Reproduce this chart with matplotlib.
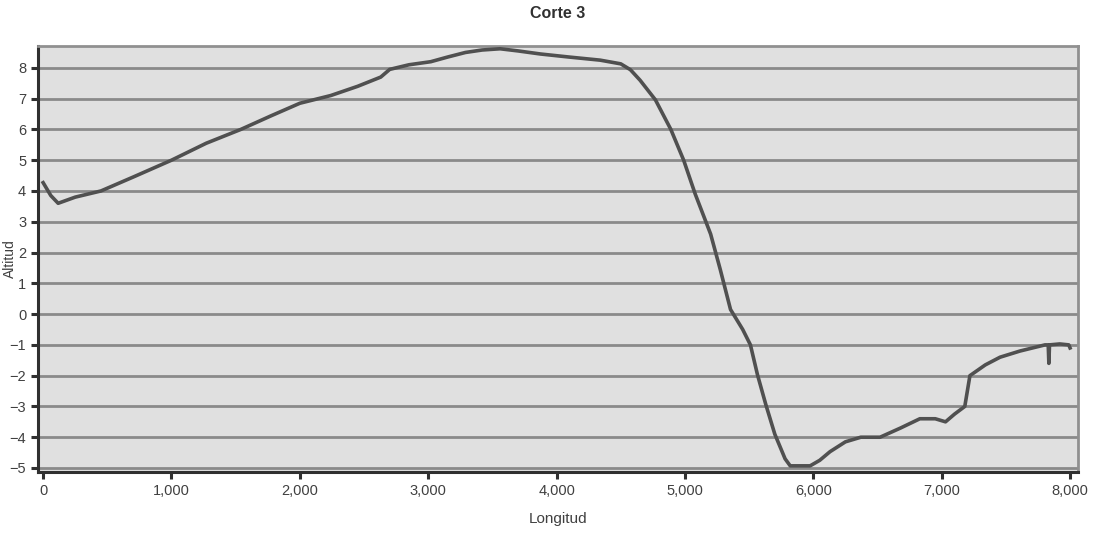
import matplotlib.pyplot as plt
from matplotlib.ticker import FuncFormatter

plt.rcParams['font.family'] = ['Liberation Sans', 'DejaVu Sans']

# profile: distance along section (m) and altitude
longitud = [0, 60, 117, 250, 450, 700, 1000, 1270, 1540, 1780, 2000, 2240,
            2450, 2630, 2700, 2850, 3020, 3150, 3290, 3420, 3560, 3700,
            3875, 4100, 4340, 4500, 4575, 4650, 4770, 4890, 4990, 5080,
            5200, 5275, 5355, 5450, 5510, 5565, 5630, 5700, 5780, 5820,
            5975, 6050, 6130, 6250, 6370, 6520, 6600, 6680, 6830, 6950,
            7030, 7100, 7180, 7220, 7340, 7455, 7610, 7805, 7830, 7835,
            7840, 7920, 7990, 8000]
altitud = [4.27, 3.85, 3.6, 3.8, 4.0, 4.45, 5.0, 5.55, 6.0, 6.45, 6.85, 7.1,
           7.4, 7.7, 7.95, 8.1, 8.2, 8.35, 8.5, 8.58, 8.62, 8.55,
           8.45, 8.35, 8.25, 8.13, 7.94, 7.6, 6.96, 6.0, 5.0, 3.9,
           2.6, 1.45, 0.15, -0.5, -1.0, -1.97, -2.94, -3.9, -4.7, -4.93,
           -4.93, -4.75, -4.47, -4.15, -4.0, -4.0, -3.85, -3.7, -3.4, -3.4,
           -3.5, -3.25, -3.0, -2.0, -1.65, -1.4, -1.2, -1.0, -1.0, -1.6,
           -1.0, -0.97, -1.0, -1.1]

fig = plt.figure(figsize=(10.99, 5.39), dpi=100)
ax = fig.add_axes([38 / 1099, 1 - 472 / 539, (1078 - 38) / 1099, (472 - 46) / 539])
ax.set_facecolor('#e0e0e0')

ax.plot(longitud, altitud, color='#505050', lw=2.6, solid_joinstyle='round', zorder=3)

ax.set_xlim(-40, 8062)
ax.set_ylim(-5.13, 8.71)
ax.set_xticks(range(0, 8001, 1000))
ax.set_yticks(range(-5, 9))
ax.xaxis.set_major_formatter(FuncFormatter(lambda v, p: f'{int(v):,}'))
ax.yaxis.grid(True, color='#8a8a8a', lw=2)
ax.set_axisbelow(True)

for s in ['left', 'bottom']:
    ax.spines[s].set_linewidth(2.2)
    ax.spines[s].set_color('#303030')
ax.spines['right'].set_color('#909090')
ax.spines['right'].set_linewidth(2)
ax.spines['top'].set_color('#909090')
ax.spines['top'].set_linewidth(2)

ax.tick_params(axis='both', length=5, width=2.2, color='#303030',
               labelsize=10.5, labelcolor='#404040')

ax.set_title('Corte 3', fontsize=11.5, fontweight='bold', color='#303030', pad=20)
ax.set_xlabel('Longitud', fontsize=11, color='#404040', labelpad=10)
ax.set_ylabel('Altitud', fontsize=10, color='#404040')
ax.yaxis.set_label_coords(-0.02, 0.5)

fig.savefig('out.png', dpi=100)
